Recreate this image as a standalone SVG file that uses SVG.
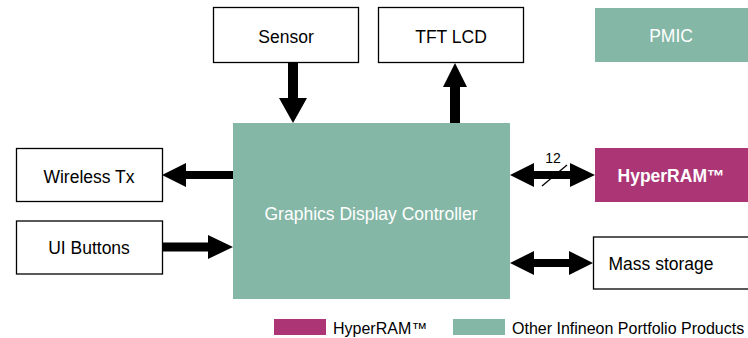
<svg xmlns="http://www.w3.org/2000/svg" width="748" height="338" viewBox="0 0 748 338">
<style>
.box{fill:#fff;stroke:#000;stroke-width:1.3}
.grn{fill:#84B7A6}
.mag{fill:#AC3576}
text{font-family:"Liberation Sans",Arial,sans-serif;font-size:17.5px;text-anchor:middle;fill:#000}
.w{fill:#fff}
.b{font-weight:bold}
.leg{font-size:16px;text-anchor:start}
.arr{fill:#000}
</style>
<rect width="748" height="338" fill="#fff"/>
<g id="sensor"><rect class="box" x="213.5" y="7.5" width="145" height="55"/><text x="286" y="43">Sensor</text></g>
<g id="tftlcd"><rect class="box" x="378.5" y="7.5" width="145" height="55"/><text x="451" y="43">TFT LCD</text></g>
<g id="pmic"><rect class="grn" x="595" y="8" width="153" height="54"/><text class="w" x="671" y="42">PMIC</text></g>
<g id="gdc"><rect class="grn" x="233" y="123" width="277" height="176"/><text class="w" x="371" y="220">Graphics Display Controller</text></g>
<g id="wireless"><rect class="box" x="16.5" y="148.5" width="146" height="53"/><text x="89" y="183">Wireless Tx</text></g>
<g id="uibuttons"><rect class="box" x="16.5" y="221" width="146" height="53"/><text x="89" y="254">UI Buttons</text></g>
<g id="hyperram"><rect class="mag" x="595" y="148" width="153" height="54"/><text class="w b" x="671" y="182">HyperRAM™</text></g>
<g id="mass"><rect class="box" x="593.5" y="237" width="156" height="52"/><text x="661" y="270">Mass storage</text></g>
<g id="connectors" class="arr">
<polygon points="288,62 298,62 298,98 307,98 293,123 279,98 288,98"/>
<polygon points="450,123 460,123 460,87 467,87 455,63 443,87 450,87"/>
<polygon points="233,171 186,171 186,163 162,175 186,187 186,179 233,179"/>
<polygon points="162,242.5 208,242.5 208,235 233,247 208,259 208,251.5 162,251.5"/>
<polygon points="510,175 534,163 534,171 570,171 570,163 595,175 570,187 570,179 534,179 534,187"/>
<polygon points="510,263 534,251 534,259 569,259 569,251 593,263 569,275 569,267 534,267 534,275"/>
<line x1="542" y1="186" x2="567" y2="165" stroke="#000" stroke-width="1.3"/>
<text x="553" y="163" style="font-size:14px">12</text>
</g>
<g id="legend">
<rect class="mag" x="274" y="319" width="52" height="16"/>
<text class="leg" x="333" y="334">HyperRAM™</text>
<rect class="grn" x="453" y="319" width="52" height="16"/>
<text class="leg" x="512" y="334">Other Infineon Portfolio Products</text>
</g>
</svg>
